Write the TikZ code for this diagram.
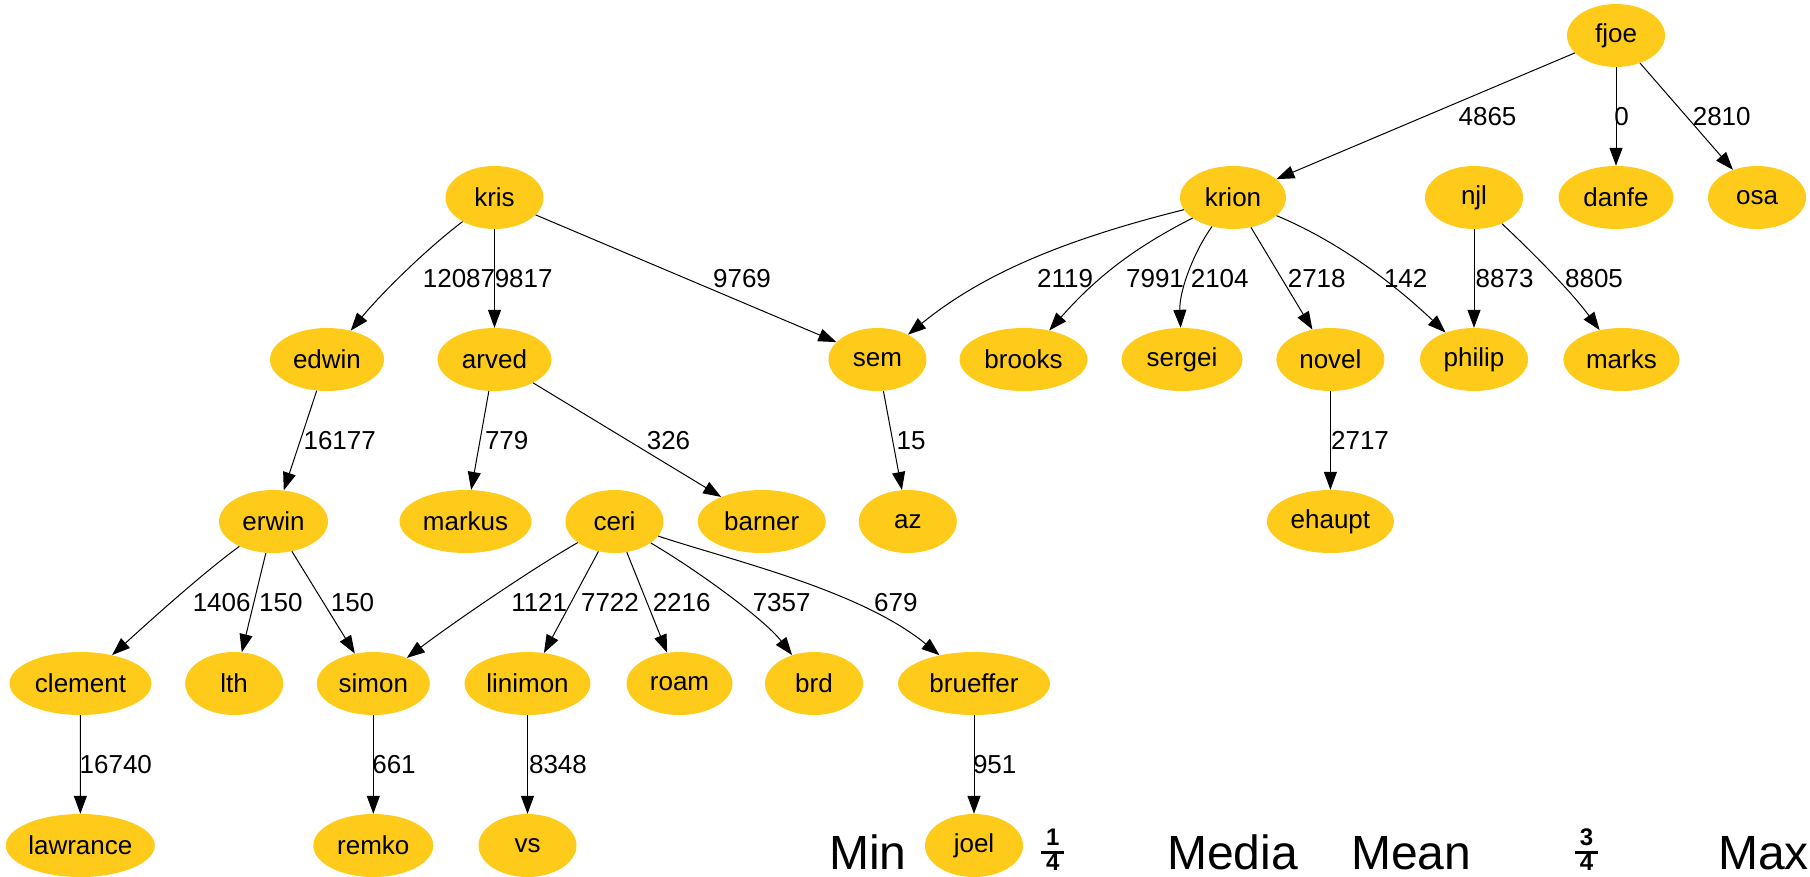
\documentclass[tikz,border=0pt]{standalone}
\usepackage{fontspec}
\setmainfont{Liberation Sans}
\usetikzlibrary{shapes.geometric,arrows.meta}
\definecolor{nodefill}{RGB}{254,203,27}
% stacked bold fraction for the quartile markers
\newcommand{\qfrac}[2]{{\bfseries\fontsize{24}{24}\selectfont
  \renewcommand{\arraystretch}{0.8}\setlength{\arrayrulewidth}{3.5pt}%
  \begin{tabular}{@{\hspace{5pt}}c@{\hspace{5pt}}}#1\\\hline #2\end{tabular}}}
\tikzset{
  person/.style={ellipse, fill=nodefill, inner sep=0pt, minimum height=63pt,
    minimum width=98pt, font=\fontsize{26}{30}\selectfont},
  edge/.style={-{Triangle[length=18pt,width=13pt]}, line width=1pt, black},
  weight/.style={font=\fontsize{26}{30}\selectfont, inner sep=0pt},
  caption/.style={font=\fontsize{48}{56}\selectfont, inner sep=0pt, anchor=base west},
}
\begin{document}
\begin{tikzpicture}[x=1pt,y=-1pt]
\useasboundingbox (0,0) rectangle (1810,876);

% rank 0
\node[person] (fjoe) at (1616,35.5) {fjoe};
% rank 1
\node[person] (kris) at (494.5,197.5) {kris};
\node[person, minimum width=106pt] (krion) at (1233,197.5) {krion};
\node[person] (njl) at (1474,197.5) {njl};
\node[person, minimum width=115pt] (danfe) at (1616,197.5) {danfe};
\node[person] (osa) at (1757,197.5) {osa};
% rank 2
\node[person, minimum width=114pt] (edwin) at (327,359.5) {edwin};
\node[person, minimum width=114pt] (arved) at (494.5,359.5) {arved};
\node[person] (sem) at (877.5,359.5) {sem};
\node[person, minimum width=128pt] (brooks) at (1023.5,359.5) {brooks};
\node[person, minimum width=121pt] (sergei) at (1182,359.5) {sergei};
\node[person, minimum width=108pt] (novel) at (1330.4,359.5) {novel};
\node[person, minimum width=108pt] (philip) at (1474,359.5) {philip};
\node[person, minimum width=116pt] (marks) at (1621.4,359.5) {marks};
% rank 3
\node[person, minimum width=109pt] (erwin) at (273.5,521.5) {erwin};
\node[person, minimum width=132pt] (markus) at (465.5,521.5) {markus};
\node[person] (ceri) at (614.5,521.5) {ceri};
\node[person, minimum width=128pt] (barner) at (761.7,521.5) {barner};
\node[person] (az) at (907.8,521.5) {az};
\node[person, minimum width=127pt] (ehaupt) at (1330.4,521.5) {ehaupt};
% rank 4
\node[person, minimum width=142pt] (clement) at (80.5,683.5) {clement};
\node[person] (lth) at (234.2,683.5) {lth};
\node[person, minimum width=113pt] (simon) at (373.3,683.5) {simon};
\node[person, minimum width=126pt] (linimon) at (527.5,683.5) {linimon};
\node[person, minimum width=106pt] (roam) at (679.5,683.5) {roam};
\node[person] (brd) at (814,683.5) {brd};
\node[person, minimum width=152pt] (brueffer) at (974,683.5) {brueffer};
% rank 5
\node[person, minimum width=149pt] (lawrance) at (80.3,845.5) {lawrance};
\node[person, minimum width=120pt] (remko) at (373.3,845.5) {remko};
\node[person] (vs) at (527.5,845.5) {vs};
\node[person] (joel) at (974,845.5) {joel};

% weighted edges
\draw[edge] (fjoe) -- (krion) node[weight] at (1487.5,116.5) {4865};
\draw[edge] (fjoe) -- (danfe) node[weight] at (1621.7,116.5) {0};
\draw[edge] (fjoe) -- (osa) node[weight] at (1721.7,116.5) {2810};

\draw[edge] (kris) .. controls (425,250) and (380,295) .. (edwin) node[weight] at (459,278.5) {12087};
\draw[edge] (kris) -- (arved) node[weight] at (523.7,278.5) {9817};
\draw[edge] (kris) -- (sem) node[weight] at (742,278.5) {9769};
\draw[edge] (krion) .. controls (1050,243) and (975,280) .. (sem) node[weight] at (1065,278.5) {2119};
\draw[edge] (krion) .. controls (1131.7,249) and (1095,278.8) .. (brooks) node[weight] at (1155,278.5) {7991};
\draw[edge] (krion) .. controls (1195,250) and (1179,290) .. (sergei) node[weight] at (1219.7,278.5) {2104};
\draw[edge] (krion) -- (novel) node[weight] at (1316.7,278.5) {2718};
\draw[edge] (krion) .. controls (1335,240) and (1390,280) .. (philip) node[weight] at (1405.7,278.5) {142};
\draw[edge] (njl) -- (philip) node[weight] at (1504.6,278.5) {8873};
\draw[edge] (njl) .. controls (1530,250) and (1570,290) .. (marks) node[weight] at (1594,278.5) {8805};

\draw[edge] (edwin) -- (erwin) node[weight] at (339.7,440.5) {16177};
\draw[edge] (arved) -- (markus) node[weight] at (506.7,440.5) {779};
\draw[edge] (arved) -- (barner) node[weight] at (668.5,440.5) {326};
\draw[edge] (sem) -- (az) node[weight] at (911,440.5) {15};
\draw[edge] (novel) -- (ehaupt) node[weight] at (1360,440.5) {2717};

\draw[edge] (erwin) .. controls (200,575) and (140,630) .. (clement) node[weight] at (221.7,602.5) {1406};
\draw[edge] (erwin) -- (lth) node[weight] at (280.8,602.5) {150};
\draw[edge] (erwin) -- (simon) node[weight] at (352.5,602.5) {150};
\draw[edge] (ceri) .. controls (530,570) and (450,625) .. (simon) node[weight] at (539.2,602.5) {1121};
\draw[edge] (ceri) -- (linimon) node[weight] at (610,602.5) {7722};
\draw[edge] (ceri) -- (roam) node[weight] at (681.7,602.5) {2216};
\draw[edge] (ceri) .. controls (700,572) and (765,620) .. (brd) node[weight] at (781.7,602.5) {7357};
\draw[edge] (ceri) .. controls (730,560) and (860,590) .. (brueffer) node[weight] at (895.8,602.5) {679};

\draw[edge] (clement) -- (lawrance) node[weight] at (115.8,764.5) {16740};
\draw[edge] (simon) -- (remko) node[weight] at (394,764.5) {661};
\draw[edge] (linimon) -- (vs) node[weight] at (558,764.5) {8348};
\draw[edge] (brueffer) -- (joel) node[weight] at (994.7,764.5) {951};

% summary statistics legend
\node[caption] (min) at (829,869) {Min};
\node[inner sep=0pt] (q1) at (1052.8,852.5) {\qfrac{1}{4}};
\node[caption] (median) at (1167,869) {Media};
\node[caption] (mean) at (1351,869) {Mean};
\node[inner sep=0pt] (q3) at (1586.5,852.5) {\qfrac{3}{4}};
\node[caption] (max) at (1718,869) {Max};
\end{tikzpicture}
\end{document}
